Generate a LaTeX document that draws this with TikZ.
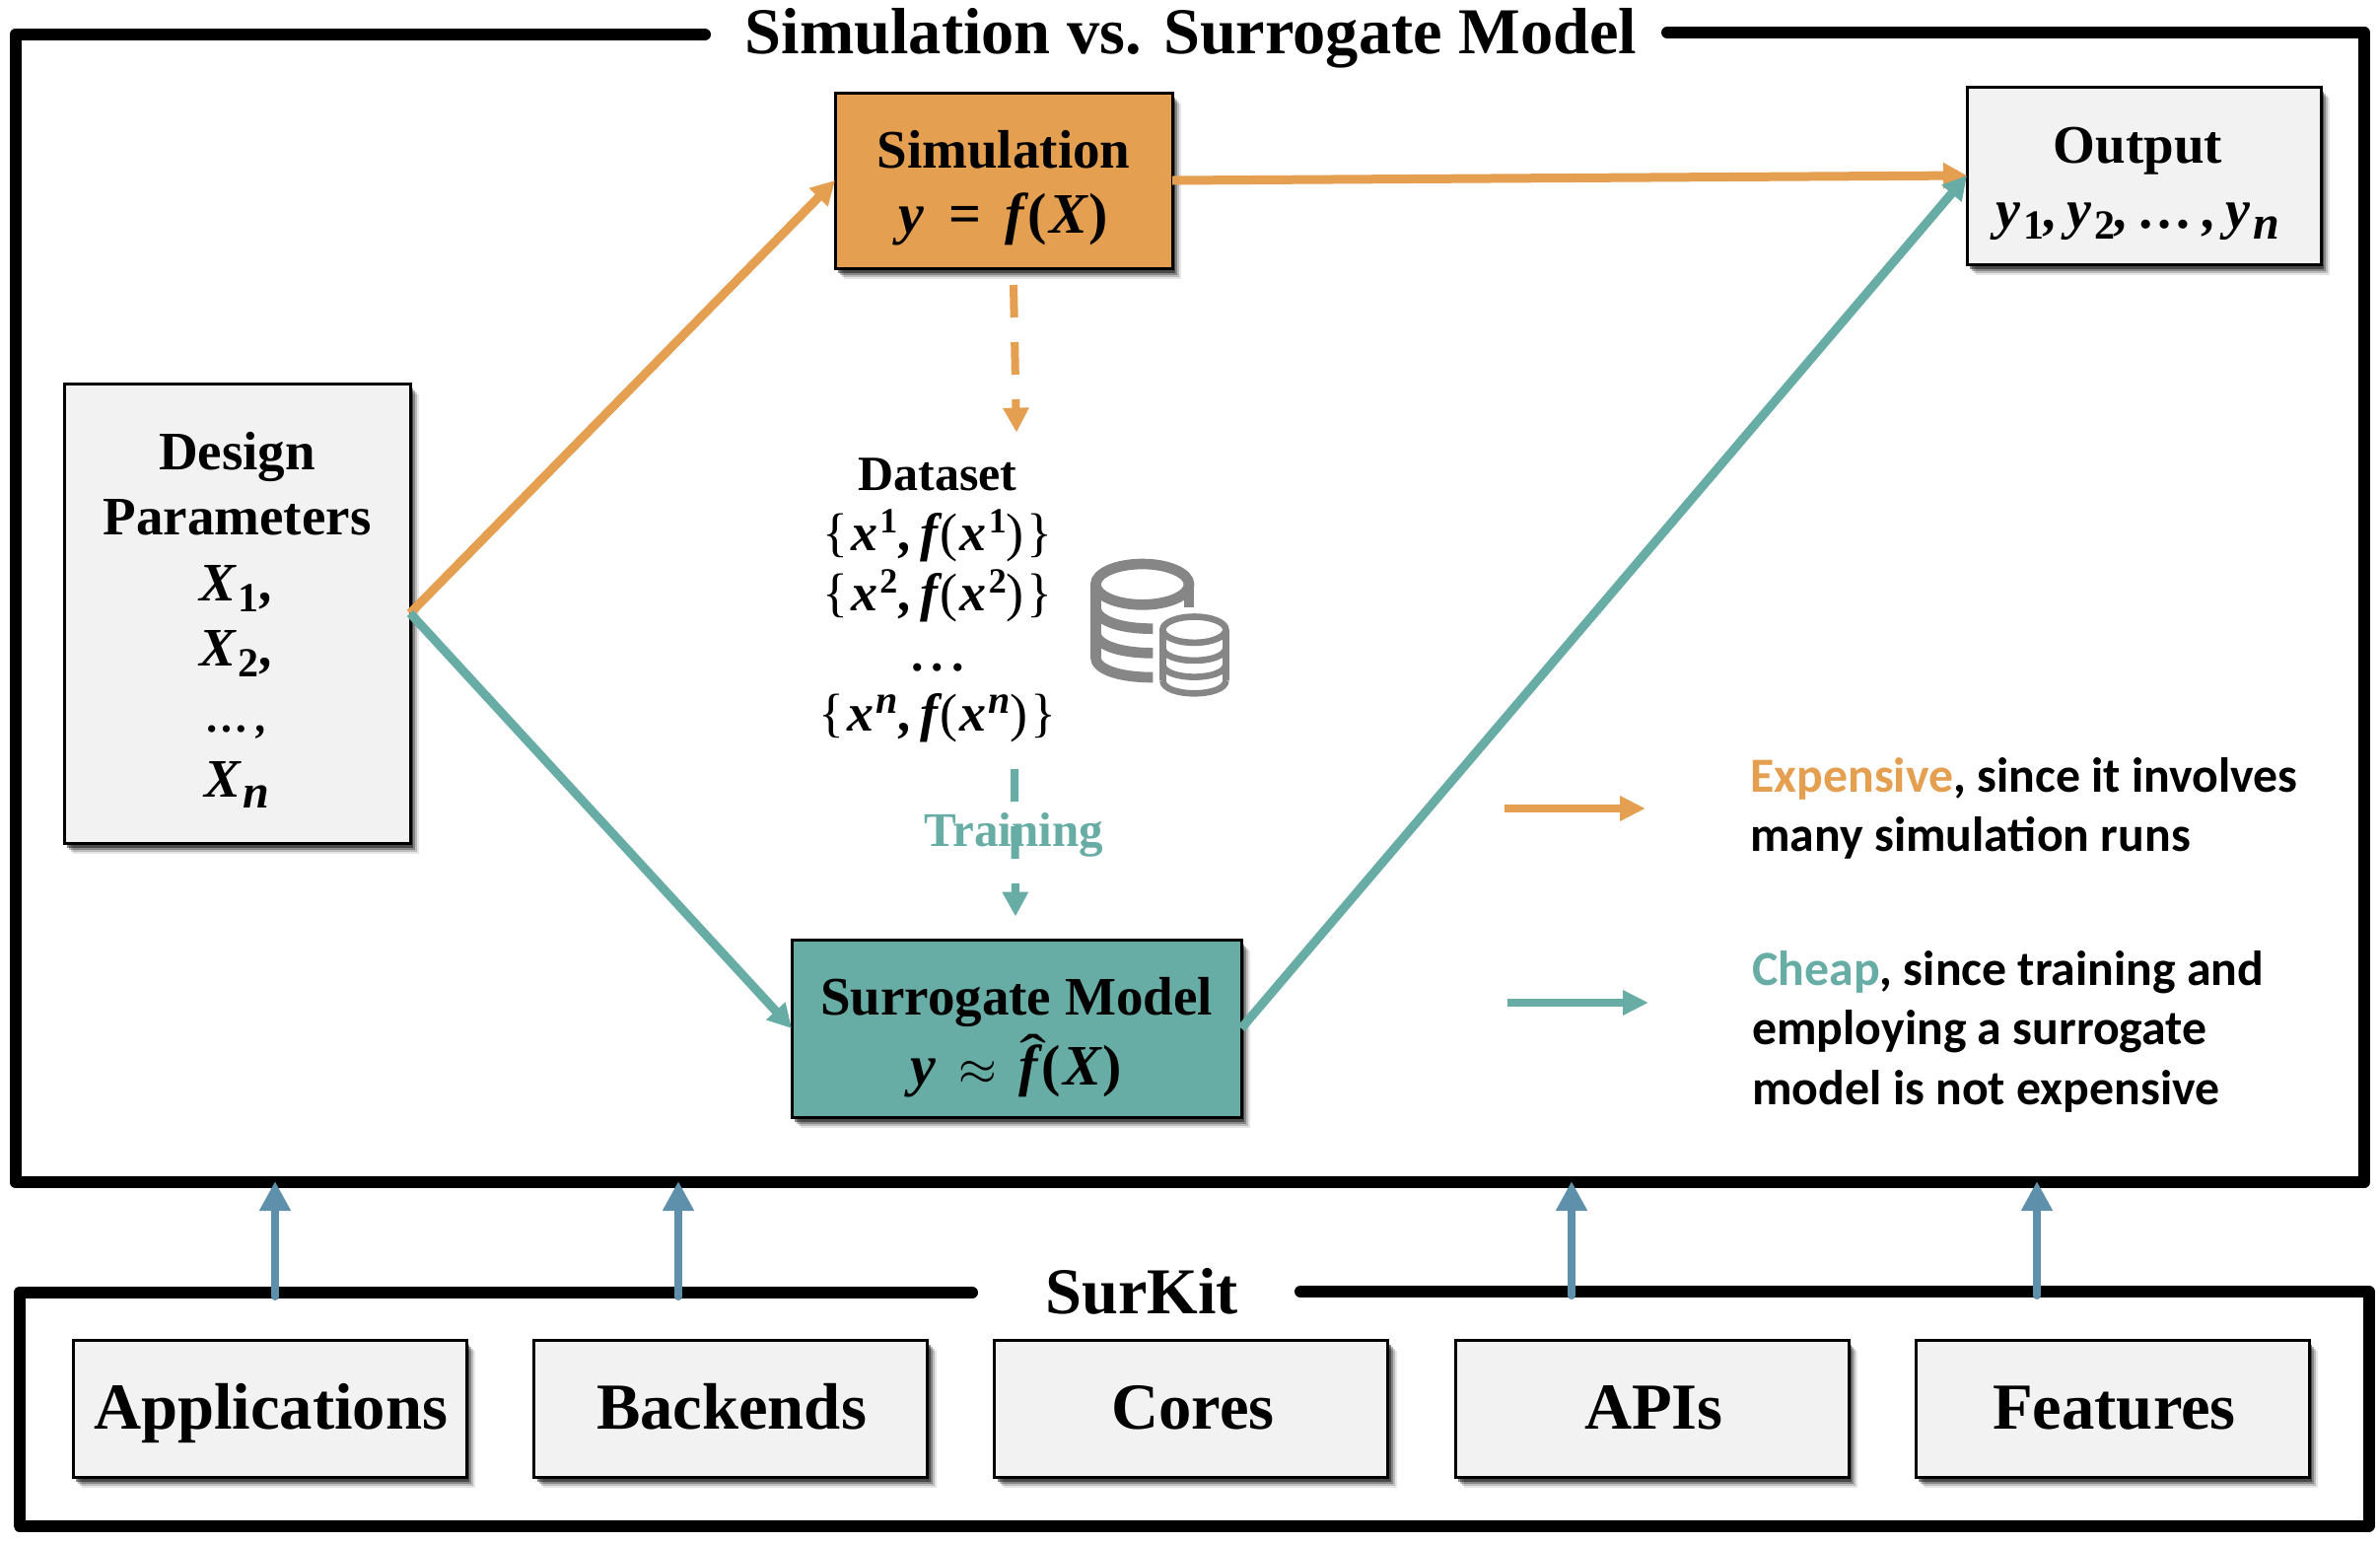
\documentclass[tikz,border=0pt]{standalone}
\usepackage{fontspec}
\usepackage{graphicx}
\setmainfont{Liberation Serif}
\newfontfamily\calfont{Carlito}
\usetikzlibrary{arrows.meta,shadows}
\definecolor{orng}{HTML}{E49F50}
\definecolor{teal2}{HTML}{67ACA5}
\definecolor{blue2}{HTML}{5F90AB}
\definecolor{boxg}{HTML}{F2F2F2}
\definecolor{icon}{HTML}{868686}
\newcommand\linesC[2]{\raisebox{#1}[0pt][0pt]{\begin{tabular}[t]{@{}c@{}}#2\end{tabular}}}
\newcommand\linesL[2]{\raisebox{#1}[0pt][0pt]{\begin{tabular}[t]{@{}l@{}}#2\end{tabular}}}
\newcommand\bi[1]{{\bfseries\itshape #1}}
\newcommand\subd[1]{\kern1.5pt\raisebox{-5.5pt}{\fontsize{21}{21}\selectfont\bfseries #1}}
\newcommand\subn{\kern1.5pt\raisebox{-5.5pt}{\fontsize{24}{24}\selectfont\bfseries\itshape n}}
\newcommand\supd[1]{\raisebox{9pt}{\fontsize{18}{18}\selectfont\bfseries #1}}
\newcommand\supn{\raisebox{9pt}{\fontsize{20}{20}\selectfont\bfseries\itshape n}}
\newcommand\dse[1]{\{\kern1.5pt\bi{x}\kern1pt\supd{#1}\kern1pt\bi{,}\kern4pt\bi{f}\kern1pt(\kern1pt\bi{x}\kern1pt\supd{#1})\kern1.5pt\}}
\newcommand\dsen{\{\kern1.5pt\bi{x}\kern1pt\supn\kern1pt\bi{,}\kern4pt\bi{f}\kern1pt(\kern1pt\bi{x}\kern1pt\supn)\kern1.5pt\}}
\newcommand\fhat{\rlap{\kern.02em\raisebox{.2em}{\normalfont\scalebox{1.4}[1]{\char"02C6}}}\bi{f}}
\newcommand\dotsc{{\fontsize{22}{22}\selectfont\bi{\dots\,,}}}
\tikzset{
  x=0.5pt,y=-0.5pt,
  frameline/.style={line width=6pt,line cap=round,line join=round,black},
  softshadow/.style={
    general shadow={shadow xshift=4.5pt,shadow yshift=-5.5pt,fill=black,opacity=.10},
    general shadow={shadow xshift=3.5pt,shadow yshift=-4.5pt,fill=black,opacity=.18},
    general shadow={shadow xshift=2.5pt,shadow yshift=-3.5pt,fill=black,opacity=.28},
    general shadow={shadow xshift=1.5pt,shadow yshift=-2.5pt,fill=black,opacity=.45}},
  boxbase/.style={softshadow,draw=black,line width=1.5pt,inner sep=0pt,outer sep=0pt,
    font=\fontsize{27.5}{33.25}\selectfont\bfseries},
  greybox/.style={boxbase,fill=boxg},
  modulebox/.style={greybox,minimum width=199.5pt,minimum height=69.5pt,font=\fontsize{33.3}{36}\selectfont\bfseries},
  flow/.style={line width=4.5pt,-{Triangle[length=12pt,width=12.5pt]}},
  dashflow/.style={line width=4pt,dash pattern=on 16.5pt off 12.5pt,-{Triangle[length=12.5pt,width=12.5pt]}},
  uparrow/.style={blue2,line width=4pt,line cap=round,-{Triangle[length=15pt,width=15pt]}},
  keyarrow/.style={line width=4pt,-{Triangle[length=13pt,width=12pt]}},
  keytext/.style={anchor=west,inner sep=0pt,font=\calfont\fontsize{24.9}{30.3}\selectfont\bfseries},
  heading/.style={anchor=base,inner sep=0pt,font=\fontsize{33.2}{36}\selectfont\bfseries},
  iconline/.style={icon,line width=5.33pt},
  iconthin/.style={icon,line width=3.3pt}
}
\begin{document}
\begin{tikzpicture}
\useasboundingbox (0,0) rectangle (2414,1564);
\fill[white] (0,0) rectangle (2414,1564);
% frames
\draw[frameline] (715,35) -- (15.5,35) -- (15.5,1199) -- (2398,1199) -- (2398,33) -- (1691,33);
\draw[frameline] (986,1311) -- (19.5,1311) -- (19.5,1547.5) -- (2402.5,1547.5) -- (2402.5,1310) -- (1319,1310);
\node[heading] (title) at (1208,54) {Simulation vs. Surrogate Model};
\node[heading] (surkit) at (1158,1332) {SurKit};
% boxes
\node[greybox,minimum width=175.5pt,minimum height=233pt] (design) at (240.5,622)
  {\linesC{73pt}{Design\\Parameters\\\bi{X}\subd{1}\kern1pt\bi{,}\\\bi{X}\subd{2}\kern1pt\bi{,}\\\dotsc\\\bi{X}\subn}};
\node[boxbase,fill=orng,minimum width=171pt,minimum height=89pt] (sim) at (1018,183)
  {\linesC{6.5pt}{\fontsize{27.5}{36}\selectfont Simulation\\\fontsize{29}{36}\selectfont\bi{y}\kern5pt{} = \kern5pt\bi{f}\kern2pt(\kern1pt\bi{X}\kern1pt)}};
\node[greybox,minimum width=179.5pt,minimum height=90pt] (output) at (2174.5,178)
  {\linesC{6.5pt}{\fontsize{27.5}{31.5}\selectfont Output\\\fontsize{28}{31.5}\selectfont\bi{y}\subd{1}\bi{,}\,\bi{y}\subd{2}\bi{,}\,\bi{\dots\,,}\,\bi{y}\subn}\kern6pt};
\node[boxbase,fill=teal2,minimum width=228pt,minimum height=90pt] (surr) at (1031,1043)
  {\linesC{7pt}{\fontsize{27.5}{36}\selectfont Surrogate Model\\\fontsize{29}{36}\selectfont\bi{y}\kern4pt{} $\approx$ \kern4pt\fhat\kern2pt(\kern1pt\bi{X}\kern1pt)}};
\node[modulebox] (app) at (273.5,1428.5) {\kern1pt\raisebox{-10.25pt}[0pt][0pt]{Applications}};
\node[modulebox] (back) at (741,1428.5) {\kern1pt\raisebox{-10.25pt}[0pt][0pt]{Backends}};
\node[modulebox] (core) at (1208,1428.5) {\kern2pt\raisebox{-10.25pt}[0pt][0pt]{Cores}};
\node[modulebox] (api) at (1675.5,1428.5) {\kern2pt\raisebox{-10.25pt}[0pt][0pt]{APIs}};
\node[modulebox] (feat) at (2142.5,1428.5) {\kern2pt\raisebox{-10.25pt}[0pt][0pt]{Features}};
% main flows
\draw[flow,orng] (design.east) -- (sim.west);
\draw[flow,teal2] (design.east) -- (surr.west);
\draw[flow,orng] (sim.east) -- (output.west);
\draw[flow,teal2] (surr.east) -- (output.west);
% dataset
\node[inner sep=0pt,font=\fontsize{25}{30.5}\selectfont\bfseries] (dataset) at (951,497.5)
  {\linesC{0pt}{Dataset\\\fontsize{27}{30.5}\selectfont\normalfont\dse{1}\\\fontsize{27}{30.5}\selectfont\normalfont\dse{2}\\.\kern4pt.\kern4pt.\\\fontsize{27}{30.5}\selectfont\normalfont\dsen}};
\node[anchor=base,inner sep=0pt,text=teal2,font=\fontsize{24.5}{27}\selectfont\bfseries] (training) at (1028,858) {Training};
\coordinate (orngstart) at (1028,289);
\coordinate (orngend) at (1031,438.6);
\coordinate (tealstart) at (1029,780);
\coordinate (tealend) at (1030,929.6);
\draw[dashflow,orng] (orngstart) -- (orngend);
\draw[dashflow,teal2] (tealstart) -- (tealend);
% database icon
\begin{scope}[shift={(1050,500)},x=0.16667pt,y=-0.16667pt]
  \draw[iconline] (326,278) ellipse [x radius=142,y radius=62];
  \draw[iconline] (468,278) -- (468,347);
  \draw[iconline] (184,278) -- (184,505);
  \draw[iconline] (184,348) .. controls (184,385) and (250,413) .. (358,413);
  \draw[iconline] (184,425) .. controls (184,460) and (250,487) .. (358,487);
  \draw[iconline] (184,500) .. controls (184,535) and (250,561) .. (358,561);
  \draw[iconthin] (484,416) ellipse [x radius=96,y radius=39.5];
  \draw[iconthin] (388,416) -- (388,570);
  \draw[iconthin] (580,416) -- (580,570);
  \draw[iconthin] (388,470) .. controls (388,523) and (580,523) .. (580,470);
  \draw[iconthin] (388,520) .. controls (388,573) and (580,573) .. (580,520);
  \draw[iconthin] (388,570) .. controls (388,623) and (580,623) .. (580,570);
\end{scope}
% key
\coordinate (k1a) at (1526,820);
\coordinate (k1b) at (1669,820);
\coordinate (k2a) at (1529,1017);
\coordinate (k2b) at (1672,1017);
\draw[keyarrow,orng] (k1a) -- (k1b);
\draw[keyarrow,teal2] (k2a) -- (k2b);
\node[keytext] (exptext) at (1775,803)
  {\linesL{0pt}{\textcolor{orng}{Expensive}, since it involves\\many simulation runs}};
\node[keytext] (cheaptext) at (1777,999)
  {\linesL{0pt}{\textcolor{teal2}{Cheap}, since training and\\employing a surrogate\\model is not expensive}};
% vertical arrows
\coordinate (u1a) at (279,1315);  \coordinate (u1b) at (279,1198);
\coordinate (u2a) at (688,1315);  \coordinate (u2b) at (688,1198);
\coordinate (u3a) at (1594,1314); \coordinate (u3b) at (1594,1198);
\coordinate (u4a) at (2066,1314); \coordinate (u4b) at (2066,1198);
\draw[uparrow] (u1a) -- (u1b);
\draw[uparrow] (u2a) -- (u2b);
\draw[uparrow] (u3a) -- (u3b);
\draw[uparrow] (u4a) -- (u4b);
\end{tikzpicture}
\end{document}
